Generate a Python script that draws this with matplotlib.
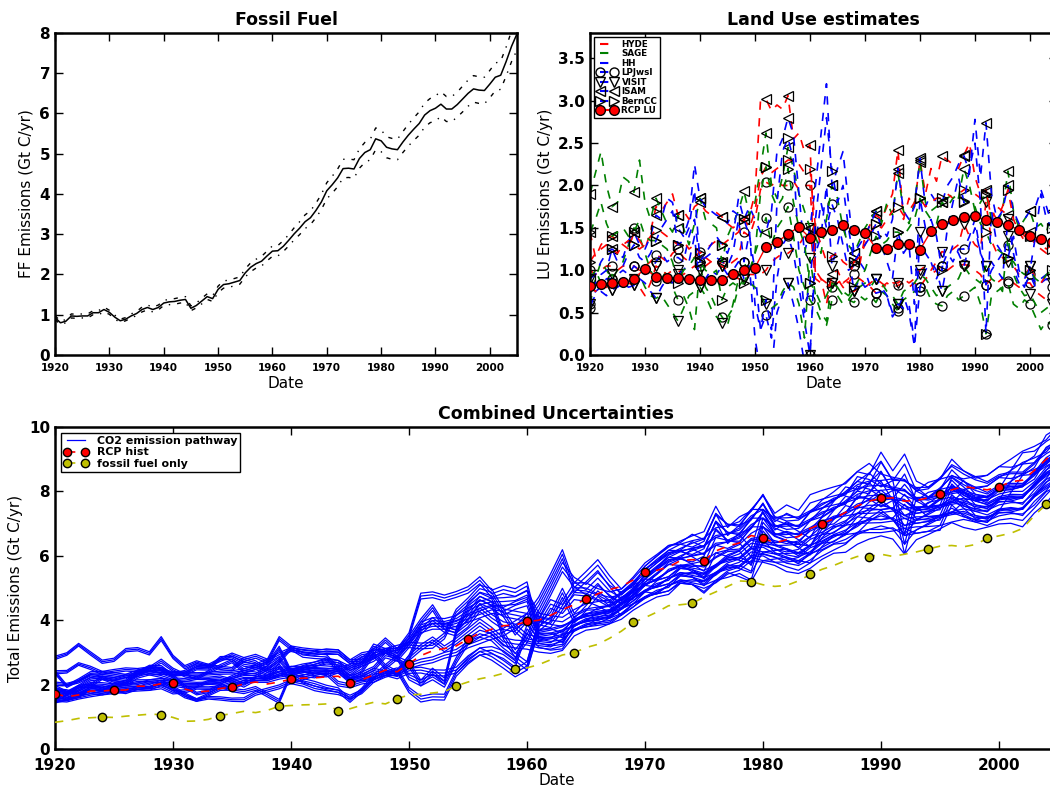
import numpy as np
import matplotlib
matplotlib.use("Agg")
import matplotlib.pyplot as plt
from matplotlib.lines import Line2D

# ── data ─────────────────────────────────────────────────────────
years = np.arange(1920, 2006)

# fossil fuel emissions (Gt C/yr), central and bounds
ff_mid = [0.93, 0.80, 0.84, 0.97, 0.96, 0.97, 0.97, 1.05, 1.05, 1.13,
          1.06, 0.94, 0.85, 0.89, 0.97, 1.03, 1.13, 1.18, 1.13, 1.18,
          1.29, 1.32, 1.33, 1.36, 1.38, 1.16, 1.23, 1.34, 1.45, 1.40,
          1.63, 1.75, 1.77, 1.81, 1.85, 2.04, 2.18, 2.27, 2.33, 2.46,
          2.58, 2.59, 2.70, 2.85, 3.01, 3.15, 3.31, 3.41, 3.59, 3.80,
          4.08, 4.23, 4.40, 4.63, 4.64, 4.62, 4.88, 5.03, 5.10, 5.37,
          5.32, 5.16, 5.12, 5.10, 5.29, 5.46, 5.61, 5.75, 5.96, 6.07,
          6.13, 6.23, 6.11, 6.11, 6.22, 6.36, 6.50, 6.61, 6.58, 6.57,
          6.73, 6.90, 6.95, 7.29, 7.67, 7.98]
ff_hi = [0.98, 0.84, 0.88, 1.02, 1.01, 1.02, 1.02, 1.10, 1.10, 1.19,
         1.11, 0.99, 0.89, 0.93, 1.02, 1.08, 1.19, 1.24, 1.19, 1.24,
         1.35, 1.39, 1.40, 1.43, 1.45, 1.22, 1.29, 1.41, 1.52, 1.47,
         1.71, 1.84, 1.86, 1.90, 1.94, 2.14, 2.29, 2.38, 2.45, 2.58,
         2.71, 2.72, 2.84, 2.99, 3.16, 3.31, 3.48, 3.58, 3.77, 3.99,
         4.28, 4.44, 4.62, 4.86, 4.87, 4.85, 5.12, 5.28, 5.36, 5.64,
         5.59, 5.42, 5.38, 5.36, 5.55, 5.73, 5.89, 6.04, 6.26, 6.37,
         6.44, 6.54, 6.42, 6.42, 6.53, 6.68, 6.83, 6.94, 6.91, 6.90,
         7.07, 7.25, 7.30, 7.65, 8.05, 8.38]
ff_lo = [0.88, 0.76, 0.80, 0.92, 0.91, 0.92, 0.92, 1.00, 1.00, 1.07,
         1.01, 0.89, 0.81, 0.85, 0.92, 0.98, 1.07, 1.12, 1.07, 1.12,
         1.23, 1.25, 1.26, 1.29, 1.31, 1.10, 1.17, 1.27, 1.38, 1.33,
         1.55, 1.66, 1.68, 1.72, 1.76, 1.94, 2.07, 2.16, 2.21, 2.34,
         2.45, 2.46, 2.57, 2.71, 2.86, 2.99, 3.14, 3.24, 3.41, 3.61,
         3.88, 4.02, 4.18, 4.40, 4.41, 4.39, 4.64, 4.78, 4.85, 5.10,
         5.05, 4.90, 4.86, 4.85, 5.03, 5.19, 5.33, 5.46, 5.66, 5.77,
         5.82, 5.92, 5.80, 5.80, 5.91, 6.04, 6.18, 6.28, 6.25, 6.24,
         6.39, 6.56, 6.60, 6.93, 7.29, 7.58]

# land use emissions per model, driven by HYDE / SAGE / HH land cover
lpj_hyde = [1.00, 0.95, 1.00, 1.05, 1.05, 1.00, 1.05, 1.05, 1.05, 1.00,
            1.05, 1.10, 1.18, 1.15, 1.10, 1.20, 1.25, 1.15, 1.10, 1.15,
            1.22, 1.15, 1.10, 1.05, 1.10, 1.05, 1.10, 1.15, 1.45, 1.40,
            1.60, 1.95, 2.04, 2.00, 2.05, 2.00, 2.00, 2.05, 1.95, 2.00,
            2.00, 0.95, 0.90, 0.85, 0.80, 0.85, 0.90, 0.85, 0.95, 0.90,
            0.85, 0.80, 0.73, 0.80, 0.85, 0.80, 0.82, 0.85, 0.80, 0.85,
            0.80, 0.90, 0.95, 1.00, 1.05, 1.00, 1.05, 1.05, 1.07, 1.05,
            1.00, 0.95, 0.83, 0.90, 0.85, 0.90, 0.87, 0.85, 0.80, 0.85,
            0.85, 0.75, 0.70, 0.65, 0.70, 0.60]
lpj_sage = [0.60, 0.90, 1.10, 1.00, 0.90, 1.00, 1.10, 1.30, 1.50, 1.40,
            1.20, 1.00, 0.87, 0.90, 1.00, 0.80, 0.65, 0.70, 0.55, 0.30,
            1.05, 0.80, 0.70, 0.55, 0.45, 0.35, 0.60, 0.90, 1.10, 0.95,
            1.20, 1.40, 1.62, 1.30, 1.50, 1.60, 1.75, 1.40, 1.00, 0.80,
            0.65, 0.55, 0.40, 0.35, 0.65, 0.70, 0.60, 0.65, 0.62, 0.70,
            0.65, 0.70, 0.62, 0.75, 0.70, 0.60, 0.52, 0.65, 0.70, 0.75,
            0.75, 0.80, 0.65, 0.60, 0.58, 0.70, 0.75, 0.65, 0.70, 0.75,
            0.80, 0.60, 0.25, 0.70, 0.75, 0.80, 0.85, 0.60, 0.55, 0.65,
            0.60, 0.45, 0.30, 0.40, 0.35, 0.50]
lpj_hh = [0.55, 0.75, 0.80, 0.90, 0.90, 0.95, 1.00, 0.95, 1.05, 1.00,
          0.95, 1.00, 1.10, 1.20, 1.10, 1.15, 1.15, 1.10, 1.40, 1.60,
          1.10, 1.15, 1.20, 1.15, 1.10, 1.05, 1.20, 1.60, 1.10, 1.45,
          0.60, 0.30, 0.47, 0.20, 0.90, 1.30, 1.40, 1.20, 0.80, 0.40,
          0.00, 1.30, 1.80, 1.50, 1.78, 1.60, 1.30, 1.00, 1.05, 1.10,
          1.00, 0.80, 0.73, 0.75, 0.70, 0.45, 0.55, 0.70, 0.50, 0.10,
          0.80, 1.00, 1.10, 0.90, 1.05, 1.20, 1.10, 1.25, 1.25, 1.40,
          1.60, 1.20, 0.83, 1.00, 1.10, 1.20, 1.30, 1.00, 0.85, 0.80,
          0.95, 0.80, 0.85, 0.90, 0.80, 0.75]

visit_hyde = [0.80, 0.75, 0.85, 0.80, 0.77, 0.85, 0.90, 0.85, 0.82, 0.80,
              0.70, 0.85, 1.05, 1.00, 0.95, 1.00, 1.00, 0.95, 1.00, 1.05,
              1.00, 1.05, 1.10, 1.05, 1.05, 1.00, 0.95, 0.90, 0.90, 0.95,
              0.95, 0.95, 1.00, 1.10, 1.15, 1.20, 1.20, 1.25, 1.30, 1.40,
              1.50, 0.90, 0.85, 0.80, 0.85, 0.90, 0.80, 0.75, 0.75, 0.80,
              0.80, 0.85, 0.90, 0.85, 0.80, 0.85, 0.85, 0.90, 0.85, 0.90,
              1.00, 1.05, 1.00, 1.10, 1.22, 1.20, 1.25, 1.30, 1.55, 1.40,
              1.30, 1.25, 1.80, 1.35, 1.20, 1.15, 1.10, 1.05, 0.95, 0.90,
              1.05, 0.90, 0.85, 0.95, 0.90, 0.85]
visit_sage = [0.90, 1.00, 0.85, 0.90, 0.95, 0.85, 0.80, 0.85, 0.90, 0.95,
              0.80, 0.70, 0.67, 0.70, 0.60, 0.50, 0.40, 0.55, 0.70, 0.75,
              0.80, 0.70, 0.55, 0.45, 0.38, 0.45, 0.55, 0.80, 0.90, 0.85,
              0.80, 0.70, 0.60, 0.55, 0.60, 0.75, 0.85, 0.80, 0.60, 0.20,
              1.15, 0.70, 0.50, 0.40, 0.85, 0.80, 0.70, 0.65, 0.75, 0.80,
              0.85, 0.80, 0.90, 0.85, 0.75, 0.70, 0.60, 0.75, 0.80, 0.85,
              0.95, 0.90, 0.80, 0.70, 0.75, 0.80, 0.85, 0.90, 1.05, 0.95,
              0.90, 0.85, 1.05, 0.90, 0.85, 0.75, 1.40, 0.95, 0.80, 0.70,
              0.72, 0.60, 0.50, 0.55, 0.60, 0.70]
visit_hh = [0.60, 0.70, 0.75, 0.70, 0.77, 0.80, 0.85, 0.80, 0.82, 0.90,
            0.85, 0.75, 0.67, 0.80, 0.90, 0.85, 0.95, 1.00, 1.10, 1.40,
            0.80, 0.90, 1.00, 0.95, 1.05, 0.95, 1.00, 1.10, 0.90, 1.05,
            0.20, -0.20, -0.15, -0.20, 0.50, 0.70, 0.85, 0.60, 0.30, -0.10,
            0.00, 1.20, 1.40, 2.00, 1.05, 1.30, 1.60, 1.20, 0.75, 0.90,
            0.80, 0.85, 0.90, 0.80, 0.70, 0.50, 0.60, 0.55, 0.60, 0.15,
            1.45, 1.20, 1.10, 1.00, 0.75, 1.10, 1.30, 1.20, 1.05, 1.30,
            1.50, 1.20, 1.05, 1.10, 1.00, 0.90, 1.60, 1.20, 0.90, 0.80,
            1.05, 0.85, 0.90, 0.95, 0.85, 0.80]

isam_hyde = [1.45, 1.15, 1.30, 1.38, 1.40, 1.35, 1.30, 1.25, 1.45, 1.35,
             1.25, 1.45, 1.75, 1.70, 1.80, 1.90, 1.65, 1.70, 1.60, 1.75,
             1.80, 1.70, 1.65, 1.68, 1.63, 1.55, 1.50, 1.55, 1.60, 1.65,
             1.90, 3.00, 3.02, 2.88, 2.95, 2.90, 3.06, 2.55, 2.62, 2.40,
             2.48, 1.00, 0.90, 0.60, 0.95, 1.00, 0.85, 0.90, 1.10, 1.05,
             1.40, 1.55, 1.65, 1.60, 1.75, 1.90, 2.42, 1.60, 1.85, 1.75,
             2.30, 1.90, 2.20, 2.05, 2.35, 2.30, 2.25, 2.20, 2.36, 2.50,
             2.10, 1.90, 1.95, 1.60, 1.75, 1.70, 1.65, 1.45, 1.55, 1.40,
             1.45, 1.35, 1.30, 1.25, 1.30, 1.20]
isam_sage = [1.90, 2.15, 2.40, 2.00, 1.75, 1.80, 2.10, 2.05, 1.92, 2.30,
             1.80, 1.60, 1.85, 1.70, 1.55, 1.45, 1.65, 1.50, 1.30, 1.55,
             1.85, 1.60, 1.55, 1.50, 1.10, 1.40, 1.55, 1.70, 1.93, 1.65,
             1.80, 2.20, 2.62, 2.00, 1.85, 2.10, 2.45, 2.20, 1.90, 1.70,
             1.50, 1.40, 1.20, 1.60, 2.00, 1.85, 1.50, 1.30, 1.20, 1.35,
             1.50, 1.60, 1.70, 1.55, 1.80, 1.65, 2.15, 1.70, 1.55, 1.80,
             2.28, 1.80, 1.70, 1.75, 1.80, 1.85, 1.90, 1.85, 2.20, 2.00,
             1.70, 1.80, 1.92, 1.60, 1.55, 1.70, 2.17, 1.70, 1.50, 1.60,
             1.70, 1.50, 1.55, 1.45, 1.70, 1.60]
isam_hh = [0.90, 0.95, 1.10, 1.20, 1.25, 1.20, 1.15, 1.35, 1.45, 1.30,
           1.25, 1.40, 1.65, 1.60, 1.85, 1.80, 1.50, 1.40, 1.60, 2.25,
           1.85, 1.75, 1.70, 1.65, 1.63, 1.55, 1.70, 1.65, 1.60, 1.75,
           1.60, 1.45, 1.45, 1.70, 2.40, 2.55, 2.80, 2.60, 1.90, 1.20,
           1.50, 2.00, 2.60, 3.20, 2.00, 2.20, 2.40, 1.80, 1.20, 1.30,
           1.40, 1.55, 1.70, 1.50, 1.40, 1.60, 2.20, 1.70, 1.60, 1.75,
           2.32, 1.75, 1.90, 1.80, 1.80, 2.00, 2.10, 2.25, 2.35, 2.15,
           2.78, 2.10, 2.74, 1.90, 1.60, 1.70, 2.00, 1.70, 1.55, 1.60,
           1.70, 1.75, 1.95, 1.75, 1.55, 1.65]

bern_hyde = [1.10, 1.20, 1.25, 1.30, 1.25, 1.20, 1.30, 1.35, 1.30, 1.25,
             1.30, 1.40, 1.48, 1.45, 1.40, 1.35, 1.30, 1.35, 1.25, 1.30,
             1.20, 1.25, 1.30, 1.35, 1.30, 1.35, 1.40, 1.45, 1.60, 1.50,
             1.70, 2.10, 2.22, 2.15, 2.20, 2.25, 2.30, 2.30, 2.25, 2.15,
             2.20, 1.50, 1.30, 1.10, 1.17, 1.20, 1.10, 1.05, 1.10, 1.15,
             1.30, 1.45, 1.55, 1.50, 1.60, 1.70, 1.75, 1.65, 1.70, 1.80,
             1.85, 1.75, 1.80, 1.85, 1.85, 1.90, 1.85, 1.90, 1.95, 1.95,
             1.90, 1.85, 1.90, 1.70, 1.60, 1.75, 1.95, 1.60, 1.45, 1.35,
             1.40, 1.30, 1.25, 1.20, 1.25, 1.15]
bern_sage = [1.45, 1.60, 1.80, 1.55, 1.40, 1.45, 1.50, 1.40, 1.45, 1.60,
             1.40, 1.35, 1.35, 1.30, 1.25, 1.10, 0.85, 1.00, 1.05, 1.15,
             1.10, 1.00, 0.95, 1.00, 0.65, 0.80, 0.85, 0.80, 0.85, 1.00,
             1.20, 1.90, 2.22, 1.90, 1.75, 1.85, 2.20, 1.80, 1.50, 1.30,
             0.85, 0.75, 0.60, 0.70, 0.85, 0.80, 0.75, 0.70, 0.80, 0.90,
             1.00, 1.20, 1.40, 1.30, 1.35, 1.45, 1.45, 1.40, 1.50, 1.60,
             1.85, 1.70, 1.60, 1.55, 1.80, 1.75, 1.85, 1.90, 1.82, 1.80,
             1.75, 1.55, 1.45, 1.30, 1.25, 1.20, 1.15, 1.10, 1.00, 0.95,
             1.00, 0.90, 0.85, 0.95, 1.00, 0.90]
bern_hh = [0.80, 0.85, 0.95, 1.00, 1.25, 1.10, 1.05, 1.20, 1.30, 1.15,
           1.10, 1.20, 1.35, 1.50, 1.60, 1.70, 1.30, 1.35, 1.50, 1.95,
           1.10, 1.20, 1.30, 1.40, 1.30, 1.20, 1.40, 1.85, 1.60, 1.40,
           1.00, 0.30, 0.65, 0.30, 1.80, 2.40, 2.56, 2.30, 1.20, 0.50,
           0.85, 1.60, 2.20, 2.80, 2.17, 1.80, 2.00, 1.50, 1.10, 1.20,
           1.30, 1.40, 1.55, 1.30, 1.10, 0.90, 1.45, 1.20, 1.30, 0.60,
           1.85, 1.50, 1.60, 1.40, 1.00, 1.50, 1.80, 2.10, 1.80, 2.20,
           2.50, 1.80, 0.25, 1.70, 1.30, 1.20, 1.15, 1.40, 1.00, 0.90,
           1.00, 1.40, 1.90, 1.60, 1.50, 1.40]

# RCP land use (every second year)
rcp_lu_years = np.arange(1920, 2005, 2)
rcp_lu = [0.81, 0.84, 0.85, 0.86, 0.90, 1.02, 0.92, 0.91, 0.91, 0.90,
          0.88, 0.88, 0.88, 0.96, 1.00, 1.03, 1.28, 1.33, 1.43, 1.51,
          1.38, 1.45, 1.47, 1.53, 1.47, 1.44, 1.26, 1.25, 1.31, 1.31,
          1.24, 1.46, 1.55, 1.59, 1.63, 1.64, 1.59, 1.57, 1.53, 1.48,
          1.40, 1.37, 1.33]

# RCP historical total and fossil-fuel-only pathway (bottom panel)
rcp_hist = [1.72, 1.62, 1.68, 1.80, 1.80, 1.83, 1.83, 1.95, 1.95, 2.03,
            2.05, 1.86, 1.77, 1.80, 1.88, 1.92, 2.02, 2.08, 2.02, 2.08,
            2.17, 2.20, 2.21, 2.24, 2.26, 2.05, 2.15, 2.30, 2.45, 2.40,
            2.65, 2.90, 3.05, 3.12, 3.20, 3.42, 3.60, 3.72, 3.83, 3.85,
            3.96, 4.00, 4.15, 4.33, 4.48, 4.65, 4.82, 4.95, 5.05, 5.25,
            5.50, 5.55, 5.65, 5.85, 5.88, 5.85, 6.15, 6.30, 6.40, 6.63,
            6.55, 6.40, 6.50, 6.60, 6.85, 7.00, 7.15, 7.35, 7.55, 7.70,
            7.78, 7.80, 7.70, 7.72, 7.80, 7.93, 8.05, 8.15, 8.10, 8.05,
            8.14, 8.30, 8.35, 8.65, 9.00, 9.30]
ff_only = [0.83, 0.88, 0.95, 0.97, 0.99, 0.98, 1.02, 1.05, 1.08, 1.07,
           0.98, 0.86, 0.87, 0.92, 1.04, 1.10, 1.17, 1.13, 1.20, 1.33,
           1.35, 1.37, 1.38, 1.40, 1.18, 1.25, 1.36, 1.45, 1.40, 1.56,
           1.68, 1.70, 1.74, 1.78, 1.96, 2.08, 2.18, 2.25, 2.35, 2.47,
           2.52, 2.62, 2.77, 2.92, 2.99, 3.15, 3.25, 3.44, 3.66, 3.93,
           4.08, 4.25, 4.45, 4.48, 4.52, 4.72, 4.88, 5.05, 5.22, 5.20,
           5.10, 5.05, 5.08, 5.22, 5.42, 5.58, 5.70, 5.85, 5.98, 5.97,
           6.05, 5.98, 6.05, 6.12, 6.21, 6.30, 6.32, 6.28, 6.35, 6.54,
           6.62, 6.70, 6.85, 7.25, 7.60, 7.85]

lu_names = ["HYDE", "SAGE", "HH"]
lu_colors = ["r", "g", "b"]
model_names = ["LPJwsl", "VISIT", "ISAM", "BernCC"]
model_markers = ["o", "v", "<", ">"]
model_runs = [
    [lpj_hyde, lpj_sage, lpj_hh],
    [visit_hyde, visit_sage, visit_hh],
    [isam_hyde, isam_sage, isam_hh],
    [bern_hyde, bern_sage, bern_hh],
]
olive = (0.75, 0.75, 0)

# ── style (old matplotlib look) ──────────────────────────────────
plt.rcParams.update({
    "font.family": ["DejaVu Sans"],
    "xtick.direction": "in", "ytick.direction": "in",
    "xtick.top": True, "ytick.right": True,
    "xtick.major.size": 6, "ytick.major.size": 6,
    "xtick.major.width": 1.0, "ytick.major.width": 1.0,
    "xtick.major.pad": 5,
    "axes.linewidth": 1.8,
    "lines.dashed_pattern": [6, 6],
    "lines.dashdot_pattern": [3, 5, 1, 5],
    "lines.scale_dashes": False,
    "legend.fancybox": False,
    "legend.framealpha": 1.0,
    "legend.edgecolor": "k",
    "legend.numpoints": 2,
})

fig = plt.figure(figsize=(10.5, 7.88), dpi=100)
ax1 = fig.add_axes([0.0524, 0.5495, 0.44, 0.4087])
ax2 = fig.add_axes([0.5619, 0.5495, 0.4452, 0.4087])
ax3 = fig.add_axes([0.0524, 0.0495, 0.9552, 0.4086])


def style_axis(ax, xsize, ysize):
    for lab in ax.get_xticklabels():
        lab.set_fontweight("bold")
        lab.set_fontsize(xsize)
    for lab in ax.get_yticklabels():
        lab.set_fontweight("bold")
        lab.set_fontsize(ysize)


# Panel 1 — fossil fuel
ax1.plot(years, ff_mid, "k-", lw=1.1)
ax1.plot(years, ff_hi, "k-.", lw=1.0)
ax1.plot(years, ff_lo, "k-.", lw=1.0)
ax1.set_xlim(1920, 2005)
ax1.set_ylim(0, 8)
ax1.set_xticks(range(1920, 2001, 10))
ax1.tick_params(axis="x", pad=6)
ax1.set_title("Fossil Fuel", fontsize=12.5, fontweight="bold")
ax1.set_xlabel("Date", fontsize=11, labelpad=2)
ax1.set_ylabel("FF Emissions (Gt C/yr)", fontsize=11)
style_axis(ax1, 7.5, 11)

# Panel 2 — land use estimates
for runs, mk in zip(model_runs, model_markers):
    for vals, c in zip(runs, lu_colors):
        ax2.plot(years, vals, linestyle="--", color=c, lw=1.2,
                 marker=mk, mfc="none", mec="k", ms=6.5, mew=0.9,
                 markevery=4)
ax2.plot(rcp_lu_years, rcp_lu, "r-", marker="o", mfc="r", mec="k",
         ms=7, lw=1.0, zorder=5)
ax2.set_xlim(1920, 2005)
ax2.set_ylim(0, 3.8)
ax2.set_xticks(range(1920, 2001, 10))
ax2.set_yticks(np.arange(0, 3.51, 0.5))
ax2.tick_params(axis="x", pad=6)
ax2.set_title("Land Use estimates", fontsize=12.5, fontweight="bold")
ax2.set_xlabel("Date", fontsize=11, labelpad=2)
ax2.set_ylabel("LU Emissions (Gt C/yr)", fontsize=11)
style_axis(ax2, 7.5, 11)

handles = [Line2D([], [], color=c, ls="--") for c in lu_colors]
handles += [Line2D([], [], color="b", ls="--", marker=mk, mfc="none",
                   mec="k", ms=6.5) for mk in model_markers]
handles.append(Line2D([], [], color="r", marker="o", mfc="r", mec="k", ms=7))
ax2.legend(handles, lu_names + model_names + ["RCP LU"], loc="upper left",
           prop={"size": 6.3, "weight": "bold"}, labelspacing=0.05,
           handlelength=2.2, handletextpad=0.6, borderpad=0.3)

# Panel 3 — combined uncertainties
first = True
for runs in model_runs:
    for lu in runs:
        for ff in (ff_lo, ff_mid, ff_hi):
            ax3.plot(years, np.array(ff) + np.array(lu), "b-", lw=0.9,
                     label="CO2 emission pathway" if first else None)
            first = False
ax3.plot(years, rcp_hist, "r--", marker="o", mfc="r", mec="k", ms=6,
         markevery=5, lw=1.2, label="RCP hist", zorder=5)
ax3.plot(years, ff_only, "--", color=olive, marker="o", mfc=olive,
         mec="k", ms=6, markevery=(4, 5), lw=1.2,
         label="fossil fuel only", zorder=5)
ax3.set_xlim(1920, 2005)
ax3.set_ylim(0, 10)
ax3.set_xticks(range(1920, 2001, 10))
ax3.set_yticks(range(0, 11, 2))
ax3.tick_params(axis="x", pad=6.5)
ax3.set_title("Combined Uncertainties", fontsize=12.5, fontweight="bold")
ax3.set_xlabel("Date", fontsize=11, labelpad=0)
ax3.set_ylabel("Total Emissions (Gt C/yr)", fontsize=11)
style_axis(ax3, 11, 11)
ax3.legend(loc="upper left", prop={"size": 7.9, "weight": "bold"},
           labelspacing=0.15, handlelength=2.2, borderpad=0.3)

fig.savefig("out.png", dpi=100)
